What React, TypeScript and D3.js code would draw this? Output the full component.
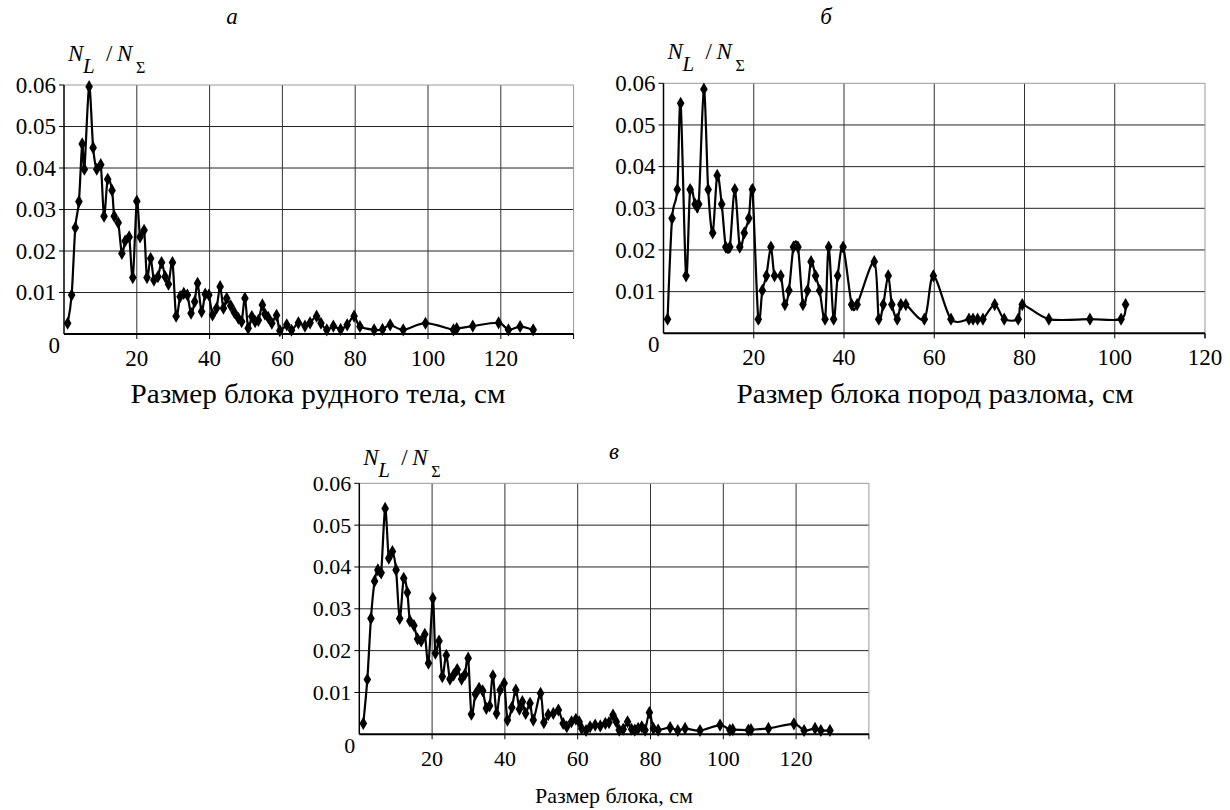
import React from "react";
import * as d3 from "d3";

// Panel а — ore body blocks
const sizeA = [1.0, 2.1, 3.1, 4.1, 5.0, 5.6, 6.9, 8.0, 9.0, 10.1, 11.0, 12.0, 13.2, 13.8, 14.9, 15.9, 16.8, 17.9, 18.9, 20.0, 20.9, 22.0, 22.8, 23.8, 24.7, 25.8, 26.8, 27.8, 28.7, 29.8, 30.8, 31.9, 32.9, 33.9, 34.9, 35.9, 36.7, 37.8, 38.8, 39.8, 40.8, 41.9, 42.9, 43.8, 44.7, 45.8, 46.8, 47.9, 48.8, 49.7, 50.6, 51.6, 52.5, 53.4, 54.5, 55.2, 56.1, 57.1, 58.4, 59.3, 61.2, 62.5, 64.4, 66.2, 67.6, 69.4, 70.6, 72.2, 74.0, 76.0, 77.8, 79.7, 81.3, 85.2, 87.5, 89.6, 93.2, 99.3, 107.0, 107.9, 112.3, 119.4, 122.1, 125.3, 128.9];
const shareA = [0.0026, 0.0094, 0.0256, 0.0319, 0.0458, 0.0397, 0.0596, 0.0449, 0.0397, 0.0408, 0.0284, 0.0373, 0.0346, 0.0284, 0.0268, 0.0194, 0.0224, 0.0234, 0.0136, 0.032, 0.0234, 0.025, 0.0136, 0.0182, 0.013, 0.0138, 0.0172, 0.0138, 0.012, 0.0172, 0.0043, 0.009, 0.0098, 0.0094, 0.005, 0.0078, 0.0122, 0.0054, 0.0096, 0.0094, 0.0046, 0.0062, 0.0114, 0.0062, 0.0086, 0.0068, 0.0052, 0.0038, 0.003, 0.0086, 0.0014, 0.0042, 0.003, 0.0033, 0.007, 0.0048, 0.004, 0.0026, 0.0045, 0.0008, 0.0022, 0.0009, 0.0027, 0.0019, 0.0027, 0.0043, 0.0026, 0.001, 0.0019, 0.0011, 0.0022, 0.0043, 0.0018, 0.001, 0.0011, 0.0022, 0.001, 0.0026, 0.001, 0.0013, 0.0019, 0.0027, 0.001, 0.0018, 0.001];

// Panel б — fault zone rock blocks
const sizeB = [0.9, 1.9, 3.05, 3.8, 5.0, 5.9, 7.0, 7.8, 8.95, 9.9, 10.9, 11.9, 12.9, 13.8, 14.7, 15.8, 16.9, 17.9, 18.9, 19.7, 21.0, 21.9, 22.8, 23.8, 24.6, 26.0, 26.9, 27.8, 28.8, 29.8, 30.9, 31.9, 32.7, 33.7, 34.6, 35.8, 36.6, 37.7, 38.6, 39.8, 41.7, 42.9, 46.7, 47.7, 48.7, 49.8, 50.6, 51.8, 52.6, 53.7, 57.8, 59.8, 63.7, 67.7, 68.6, 69.6, 70.8, 73.4, 75.5, 78.6, 79.5, 85.4, 94.5, 101.4, 102.4];
const shareB = [0.0034, 0.0276, 0.0345, 0.0552, 0.0138, 0.0345, 0.031, 0.031, 0.0586, 0.0345, 0.0241, 0.0379, 0.031, 0.0207, 0.0207, 0.0345, 0.0207, 0.0241, 0.0276, 0.0345, 0.0034, 0.0103, 0.0138, 0.0207, 0.0138, 0.0138, 0.0069, 0.0103, 0.0207, 0.0207, 0.0069, 0.0103, 0.0172, 0.0138, 0.0103, 0.0034, 0.0207, 0.0034, 0.0138, 0.0207, 0.0069, 0.0069, 0.0172, 0.0034, 0.0069, 0.0138, 0.0069, 0.0034, 0.0069, 0.0069, 0.0034, 0.0138, 0.0034, 0.0034, 0.0034, 0.0034, 0.0034, 0.0069, 0.0034, 0.0034, 0.0069, 0.0034, 0.0034, 0.0034, 0.0069];

// Panel в — all blocks
const sizeC = [1.1, 2.2, 3.2, 4.2, 5.1, 6.0, 7.1, 8.1, 9.1, 10.1, 11.1, 12.2, 13.2, 13.9, 15.0, 16.0, 17.0, 18.0, 19.0, 20.2, 20.9, 21.9, 22.8, 23.9, 24.9, 25.9, 26.9, 28.1, 29.0, 29.9, 30.8, 31.9, 32.9, 33.9, 34.9, 35.8, 36.7, 37.7, 38.7, 39.8, 40.7, 41.9, 43.0, 44.0, 44.8, 45.7, 46.9, 47.8, 49.8, 50.7, 51.9, 53.3, 54.7, 56.0, 57.0, 58.3, 59.5, 60.4, 61.1, 62.3, 63.4, 64.8, 66.2, 67.6, 68.6, 69.7, 70.6, 71.4, 72.5, 73.7, 74.8, 75.7, 76.6, 77.6, 78.5, 79.7, 80.8, 82.1, 85.4, 87.5, 89.5, 93.6, 99.1, 101.8, 102.6, 106.9, 107.6, 112.4, 119.4, 122.2, 125.2, 126.8, 129.3];
const shareC = [0.0026, 0.0131, 0.0277, 0.0366, 0.0393, 0.0386, 0.054, 0.0421, 0.0437, 0.0393, 0.0277, 0.0373, 0.0339, 0.0271, 0.026, 0.0228, 0.0223, 0.0239, 0.017, 0.0325, 0.0194, 0.0223, 0.0138, 0.0189, 0.0132, 0.0142, 0.0155, 0.0132, 0.0143, 0.0182, 0.0048, 0.0096, 0.011, 0.0104, 0.0062, 0.0068, 0.014, 0.005, 0.0106, 0.0122, 0.0034, 0.0064, 0.0106, 0.006, 0.0078, 0.005, 0.0074, 0.0034, 0.0098, 0.0028, 0.0047, 0.005, 0.0058, 0.0026, 0.0018, 0.003, 0.0036, 0.003, 0.0014, 0.0009, 0.0018, 0.0022, 0.002, 0.0026, 0.0028, 0.0046, 0.003, 0.001, 0.0012, 0.003, 0.0012, 0.001, 0.0014, 0.0018, 0.001, 0.0052, 0.0014, 0.001, 0.0016, 0.0009, 0.0014, 0.0009, 0.0022, 0.001, 0.0011, 0.001, 0.0011, 0.0014, 0.0025, 0.0009, 0.0014, 0.0009, 0.0009];

const yTicks = [0.01, 0.02, 0.03, 0.04, 0.05, 0.06];
const yTickLabels = ["0.01", "0.02", "0.03", "0.04", "0.05", "0.06"];
const xTicksLong = [20, 40, 60, 80, 100, 120];
const xTicksShort = [20, 40, 60, 80, 100, 120];

const FONT = "Liberation Serif, DejaVu Serif, serif";

type PanelProps = {
  left: number;
  top: number;
  width: number;
  height: number;
  xMax: number;
  xTicks: number[];
  sizes: number[];
  shares: number[];
  letter: string;
  letterX: number;
  letterY: number;
  title: string;
  titleX: number;
  titleY: number;
  titleSize: number;
  titleLength?: number;
  tickSize: number;
  labelLift: number;
};

function Panel(p: PanelProps) {
  const x = d3.scaleLinear().domain([0, p.xMax]).range([p.left, p.left + p.width]);
  const y = d3.scaleLinear().domain([0, 0.06]).range([p.top + p.height, p.top]);
  const pts = p.sizes.map((s, i) => [s, p.shares[i]] as [number, number]);
  const line = d3
    .line<[number, number]>()
    .x((d) => x(d[0]))
    .y((d) => y(d[1]))
    .curve(d3.curveCardinal.tension(0.1));
  const diamond = d3.symbol(d3.symbolDiamond, 50)() as string;
  const x0 = x(0);
  const yb = y(0);
  const lx = p.left;
  const ly = p.top - p.labelLift;
  const tick = { fontFamily: FONT, fontSize: p.tickSize };
  const big = { fontFamily: FONT, fontSize: 23 };

  return (
    <g>
      {/* grid */}
      {yTicks.slice(0, -1).map((t) => (
        <line key={"h" + t} x1={x0} x2={x(p.xMax)} y1={y(t)} y2={y(t)} stroke="#222" strokeWidth={1} />
      ))}
      {p.xTicks.filter((t) => t < p.xMax).map((t) => (
        <line key={"v" + t} x1={x(t)} x2={x(t)} y1={y(0.06)} y2={yb} stroke="#333" strokeWidth={1} />
      ))}
      {/* plot frame top / right */}
      <line x1={x0} x2={x(p.xMax)} y1={y(0.06)} y2={y(0.06)} stroke="#999" strokeWidth={1} />
      <line x1={x(p.xMax)} x2={x(p.xMax)} y1={y(0.06)} y2={yb} stroke="#999" strokeWidth={1} />
      {/* axes */}
      <line x1={x0} x2={x0} y1={y(0.06)} y2={yb} stroke="#000" strokeWidth={1.5} />
      <line x1={x0} x2={x(p.xMax)} y1={yb} y2={yb} stroke="#000" strokeWidth={2} />
      {yTicks.map((t) => (
        <line key={"yt" + t} x1={x0 - 5} x2={x0} y1={y(t)} y2={y(t)} stroke="#000" strokeWidth={1} />
      ))}
      {[...p.xTicks, p.xMax].map((t) => (
        <line key={"xt" + t} x1={x(t)} x2={x(t)} y1={yb} y2={yb + 5} stroke="#000" strokeWidth={1} />
      ))}
      {/* tick labels */}
      {yTicks.map((t, i) => (
        <text key={"yl" + t} x={x0 - 8} y={y(t)} dy="0.34em" textAnchor="end" style={tick}>
          {yTickLabels[i]}
        </text>
      ))}
      <text x={x0 - 4} y={yb + 19} textAnchor="end" style={tick}>
        0
      </text>
      {p.xTicks.map((t) => (
        <text key={"xl" + t} x={x(t)} y={yb + 32} textAnchor="middle" style={tick}>
          {String(t)}
        </text>
      ))}
      {/* data */}
      <path d={line(pts) || ""} fill="none" stroke="#000" strokeWidth={2.2} strokeLinejoin="round" />
      {pts.map((d, i) => (
        <path key={"m" + i} d={diamond} transform={`translate(${x(d[0])},${y(d[1])})`} fill="#000" />
      ))}
      {/* y label N_L / N_Σ */}
      <text style={big}>
        <tspan x={lx + 4} y={ly} fontStyle="italic">N</tspan>
        <tspan x={lx + 19} y={ly + 12} fontStyle="italic" style={{ fontSize: 21 }}>L</tspan>
        <tspan x={lx + 42} y={ly}>/</tspan>
        <tspan x={lx + 53} y={ly} fontStyle="italic">N</tspan>
        <tspan x={lx + 72} y={ly + 12} style={{ fontSize: 16 }}>Σ</tspan>
      </text>
      {/* panel letter */}
      <text x={p.letterX} y={p.letterY} textAnchor="middle" fontStyle="italic" style={big}>
        {p.letter}
      </text>
      {/* x title */}
      <text
        x={p.titleX}
        y={p.titleY}
        textAnchor="middle"
        style={{ fontFamily: FONT, fontSize: p.titleSize }}
        textLength={p.titleLength}
        lengthAdjust={p.titleLength ? "spacingAndGlyphs" : undefined}
      >
        {p.title}
      </text>
    </g>
  );
}

export default function App() {
  return (
    <svg
      width={1230}
      height={810}
      style={{ position: "absolute", left: 0, top: 0, background: "#fff" }}
    >
      <rect width={1230} height={810} fill="#fff" />
      <Panel
        left={64}
        top={85}
        width={509.6}
        height={249}
        xMax={140}
        xTicks={xTicksLong}
        sizes={sizeA}
        shares={shareA}
        letter="а"
        letterX={232}
        letterY={24}
        title="Размер блока рудного тела, см"
        titleX={318}
        titleY={403}
        titleSize={27}
        titleLength={375}
        tickSize={23}
        labelLift={24}
      />
      <Panel
        left={663.5}
        top={83.3}
        width={541.5}
        height={250}
        xMax={120}
        xTicks={xTicksShort}
        sizes={sizeB}
        shares={shareB}
        letter="б"
        letterX={826}
        letterY={24}
        title="Размер блока пород разлома, см"
        titleX={935}
        titleY={403}
        titleSize={27}
        titleLength={397}
        tickSize={23}
        labelLift={24}
      />
      <Panel
        left={359.3}
        top={483.3}
        width={509.6}
        height={251}
        xMax={140}
        xTicks={xTicksLong}
        sizes={sizeC}
        shares={shareC}
        letter="в"
        letterX={614}
        letterY={459}
        title="Размер блока, см"
        titleX={614}
        titleY={803}
        titleSize={22}
        tickSize={22}
        labelLift={18}
      />
    </svg>
  );
}
